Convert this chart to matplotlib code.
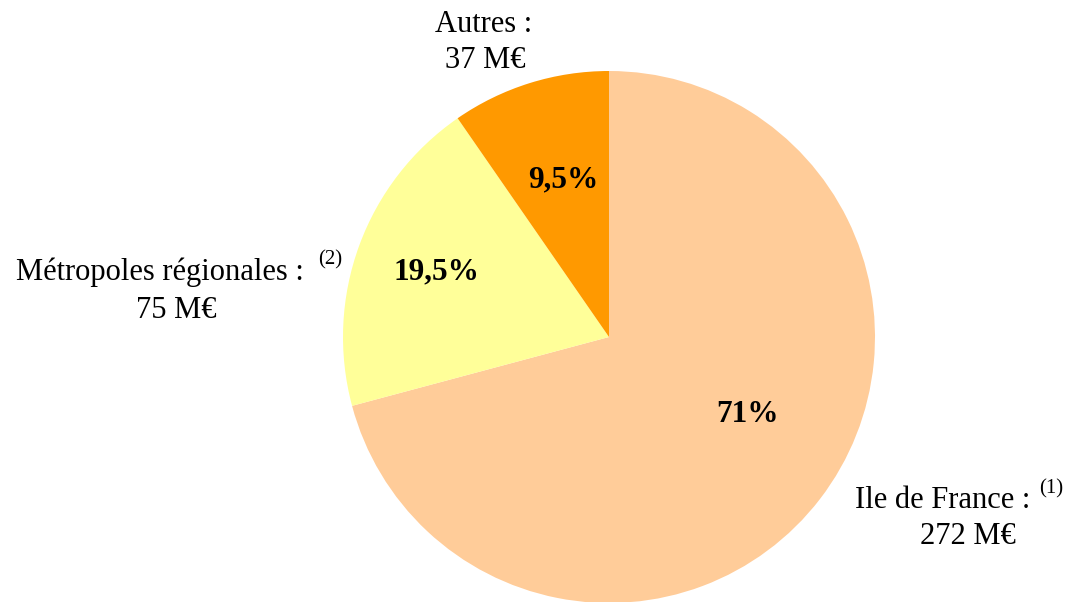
import matplotlib
matplotlib.use("Agg")
import matplotlib.pyplot as plt

# --- data ---
regions = ["Ile de France", "Métropoles régionales", "Autres"]
amounts = [272, 75, 37]          # M€
pct_labels = ["71%", "19,5%", "9,5%"]
notes = ["(1)", "(2)", ""]
colors = ["#FFCC99", "#FFFF99", "#FF9900"]

W, H = 1077, 602
plt.rcParams["font.family"] = ["Liberation Serif", "DejaVu Serif"]

fig = plt.figure(figsize=(W / 100, H / 100), dpi=100)
ax = fig.add_axes([0, 0, 1, 1])

cx, cy, r = 609, H - 337, 266
wedges, _ = ax.pie(amounts, colors=colors, startangle=90, counterclock=False,
                   center=(cx, cy), radius=r, frame=True,
                   wedgeprops=dict(linewidth=0))
ax.set_xlim(0, W)
ax.set_ylim(0, H)
ax.axis("off")

# percentage labels inside slices (image pixel positions)
pct_pos = [(748, 415), (436, 272), (563, 180)]
for (x, y), t in zip(pct_pos, pct_labels):
    ax.text(x, H - y, t, ha="center", va="center", fontsize=22.5, fontweight="bold")

# outside labels: (centre x line 1, y line 1, superscript left x, centre x line 2, y line 2)
lab_pos = [(943, 501, 1039, 968, 537), (160, 272, 318, 176, 310), (484, 24, 0, 485, 60)]
for (x1, y1, xs, x2, y2), name, amt, note in zip(lab_pos, regions, amounts, notes):
    ax.text(x1, H - y1, f"{name} :", ha="center", va="center", fontsize=22)
    if note:
        ax.text(xs, H - y1 + 12, note, ha="left", va="center", fontsize=15)
    ax.text(x2, H - y2, f"{amt} M€", ha="center", va="center", fontsize=22)

fig.savefig("out.png", dpi=100, facecolor="white")
